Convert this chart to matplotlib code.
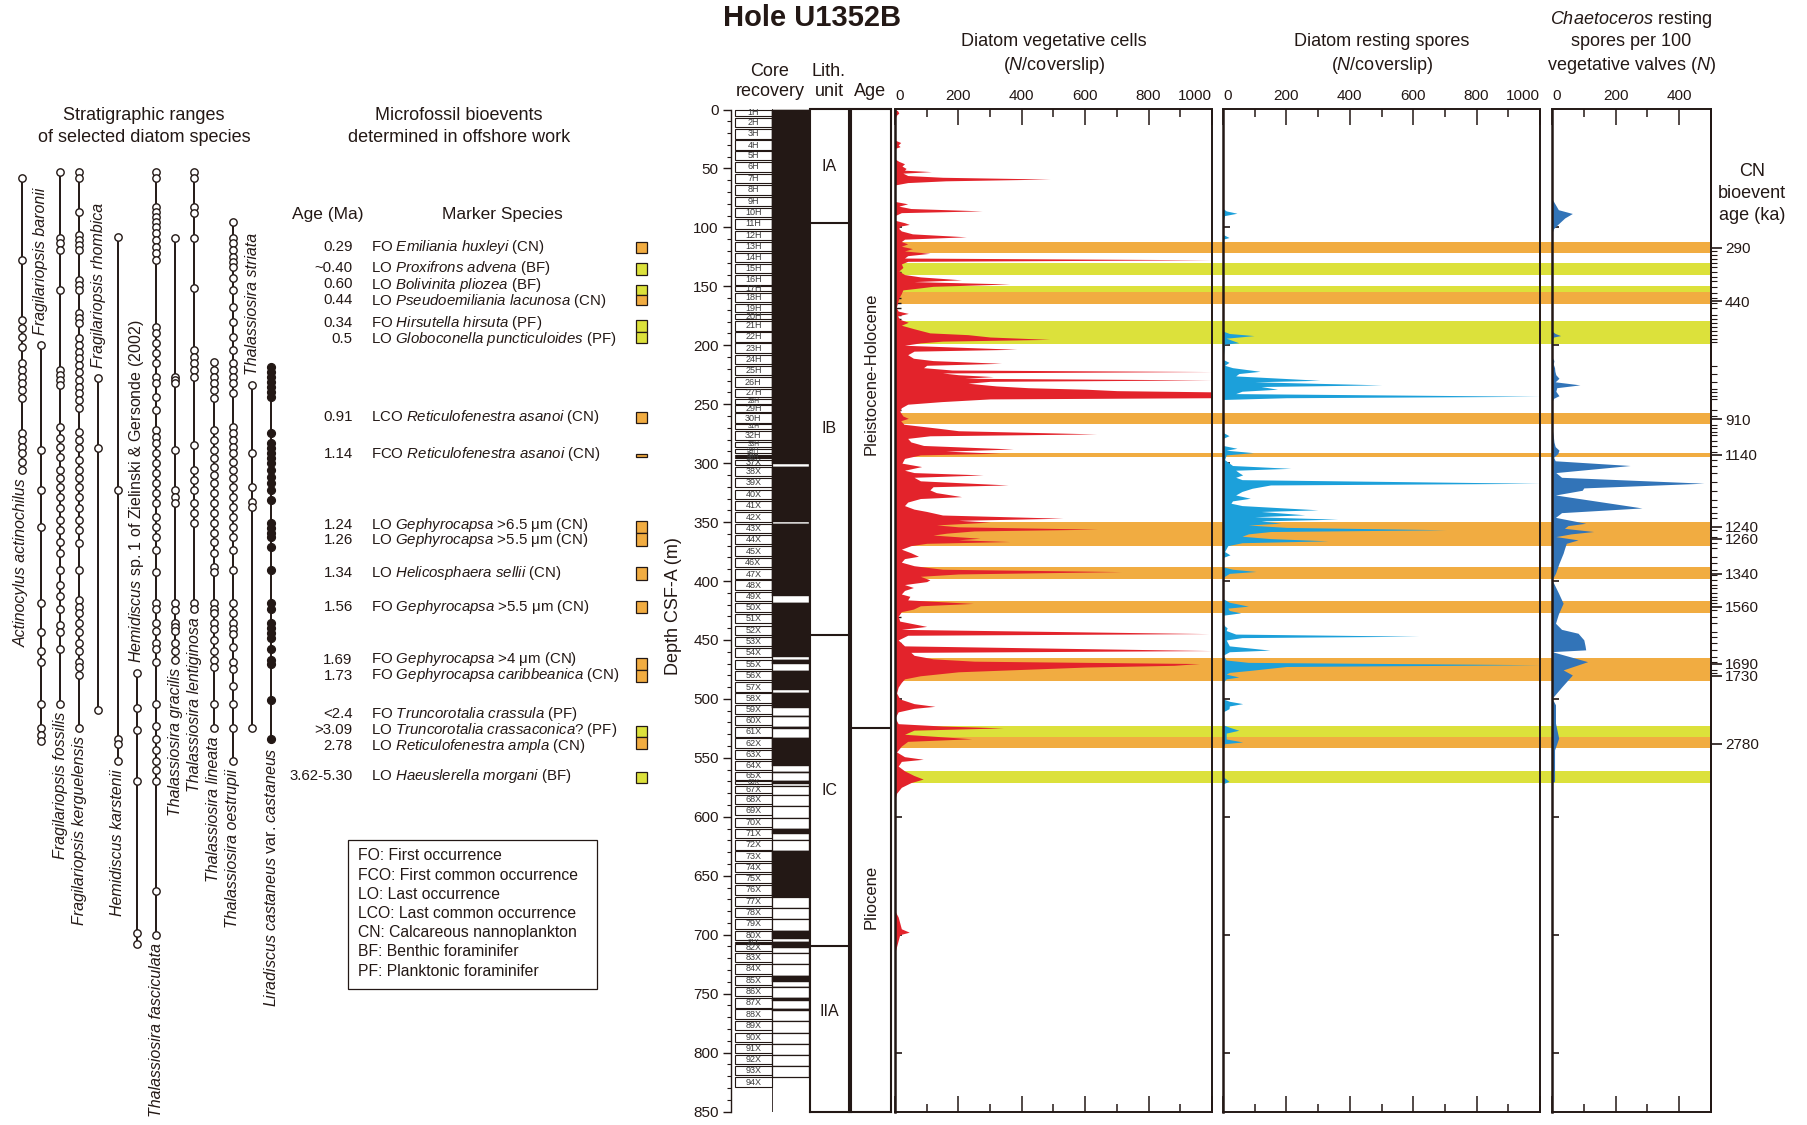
import numpy as np
import matplotlib
matplotlib.use("Agg")
import matplotlib.pyplot as plt
from matplotlib.patches import Rectangle
from matplotlib.ticker import MultipleLocator

plt.rcParams['font.family'] = ['Liberation Sans', 'DejaVu Sans']
plt.rcParams['mathtext.fontset'] = 'custom'
plt.rcParams['mathtext.rm'] = 'Liberation Sans'
plt.rcParams['mathtext.it'] = 'Liberation Sans:italic'
plt.rcParams['mathtext.bf'] = 'Liberation Sans:bold'
INK = '#231815'
plt.rcParams['text.color'] = INK
plt.rcParams['axes.edgecolor'] = INK
plt.rcParams['xtick.color'] = INK
plt.rcParams['ytick.color'] = INK

# ------------------------------------------------------------------ data
core_names = ([f"{i}H" for i in range(1, 37)] + [f"{i}X" for i in range(37, 95)])
core_top = [0.0, 7.0, 16.7, 26.2, 35.6, 44.7, 54.8, 64.2, 73.9, 83.4,
            93.1, 102.9, 112.3, 121.7, 131.2, 140.6, 150.0, 155.8, 165.2, 173.5,
            179.5, 189.0, 198.4, 208.2, 217.6, 227.3, 236.8, 245.6, 251.0, 257.8,
            267.2, 272.4, 282.1, 287.6, 292.8, 295.0, 297.3, 303.4, 312.5, 322.6,
            331.7, 341.8, 351.5, 361.0, 370.7, 380.2, 390.2, 399.4, 409.0, 418.6,
            428.0, 437.8, 447.3, 456.7, 466.8, 476.2, 486.0, 495.4, 505.0, 514.3,
            524.0, 533.5, 543.0, 552.7, 562.2, 570.0, 573.8, 581.4, 590.9, 600.6,
            610.0, 619.8, 629.3, 639.0, 648.5, 658.0, 667.7, 677.1, 686.9, 696.6,
            705.8, 708.2, 715.5, 725.0, 734.8, 744.2, 754.0, 763.4, 773.2, 783.0,
            792.4, 801.8, 811.3, 821.0]
core_recovery_pct = [100] * 17 + [94] + [100] * 18 + [57, 100, 100, 100, 100, 85,
                     100, 100, 100, 100, 100, 100, 42, 100, 100, 100, 100, 80, 38, 100,
                     65, 100, 28, 12, 14, 100, 100, 45, 8, 50, 0, 0, 0, 0, 48, 0,
                     100, 100, 100, 100, 0, 0, 0, 80, 100, 38, 0, 0, 55, 5, 26, 16,
                     0, 0, 0, 0, 0, 0]

lith_bounds = [0, 96.5, 446, 709.5, 850]
lith_names = ['IA', 'IB', 'IC', 'IIA']
lith_label_depth = [48, 271, 578, 765]
age_bounds = [0, 524.4, 850]
age_names = ['Pleistocene-Holocene', 'Pliocene']
age_label_depth = [224, 668]

veg_depth = [0, 1, 3, 5, 8, 26, 28, 30, 31.5, 33, 42, 44, 46, 48, 50, 51.5, 52.7, 54, 56, 57.5,
             59, 60.5, 62, 64, 78, 80, 82, 84, 86, 87.5, 90, 94, 96, 97.5, 99, 101, 103, 105.5, 108, 110,
             112, 114, 116, 118, 120, 122, 124, 126, 127.5, 128.8, 131, 134, 137, 140, 142, 144.5, 146, 148, 150, 151.7,
             153, 157, 160, 164, 168, 171, 173, 175, 178, 180.5, 183, 186, 189.5, 191, 193, 195, 196.5, 198, 200, 203.4,
             205, 208, 211, 213, 215.3, 217, 219, 221, 222.3, 223.5, 225, 226.6, 228, 229.4, 230.6, 232.2, 234.5, 236, 237.3, 238.5,
             239.5, 244.5, 245.5, 247.8, 250, 253, 256, 260, 262, 264, 267, 270.4, 272.5, 275.2, 276.8, 279, 282, 285, 288, 289.8,
             291.6, 293, 296, 300, 302.9, 306, 308, 310, 312, 315, 318.5, 320, 322.7, 325, 328.4, 330, 333, 336, 339, 341,
             344, 346.7, 348.5, 350, 352.4, 354, 356, 357.5, 359.4, 361, 363.7, 365, 366.5, 368, 370, 373, 376, 379, 381, 384,
             387, 390, 392, 394, 396, 399, 400.5, 403, 405.5, 408, 411, 413, 416, 419, 421, 423.8, 426, 430, 434, 438.5,
             441, 444.6, 446, 450, 455, 459, 460.5, 463, 466, 468, 470, 471.5, 473, 475, 477, 480.4, 483, 486, 490, 495,
             500, 504, 506.3, 508, 511, 516, 521, 523, 524.6, 526.5, 530, 533.8, 536, 540, 545, 549, 551.2, 553, 557, 561,
             565, 568, 571, 575, 580, 585, 680, 685, 690, 695, 697.9, 700, 705, 710, 715, 850]
veg_count = [0, 8, 12, 4, 0, 0, 18, 10, 16, 0, 0, 12, 30, 22, 35, 30, 115, 25, 40, 150,
             490, 160, 40, 0, 0, 40, 12, 50, 275, 20, 0, 0, 30, 45, 15, 12, 20, 55, 225, 30,
             20, 40, 20, 55, 30, 110, 40, 30, 1000, 40, 20, 25, 12, 30, 80, 210, 60, 362, 120, 68,
             25, 18, 12, 8, 4, 10, 42, 8, 15, 42, 20, 60, 110, 230, 300, 488, 150, 80, 30, 385,
             60, 40, 58, 120, 336, 100, 90, 180, 1000, 150, 200, 310, 220, 1000, 300, 230, 320, 420, 604, 700,
             1000, 1000, 300, 147, 40, 20, 15, 25, 42, 18, 28, 137, 200, 636, 110, 40, 50, 90, 373, 160,
             331, 80, 30, 22, 84, 30, 60, 278, 60, 80, 357, 120, 110, 130, 210, 80, 40, 30, 60, 100,
             150, 530, 200, 300, 131, 200, 640, 250, 163, 120, 268, 200, 362, 100, 50, 20, 50, 74, 30, 20,
             60, 150, 714, 200, 80, 110, 100, 30, 58, 30, 20, 47, 40, 247, 80, 58, 20, 10, 15, 100,
             20, 990, 40, 10, 30, 1000, 50, 60, 120, 250, 960, 880, 600, 400, 200, 79, 30, 20, 10, 5,
             15, 60, 126, 60, 10, 0, 10, 150, 342, 60, 30, 242, 40, 20, 5, 30, 89, 20, 10, 30,
             60, 89, 50, 20, 5, 0, 0, 10, 15, 20, 45, 15, 10, 5, 0, 0]

spore_depth = [0, 84, 86, 88, 90, 95, 106, 108.6, 110, 188, 190, 191.8, 194, 197.9, 199, 212, 214.5, 217, 219, 222.1,
               224, 226, 229.7, 231, 233.6, 235, 237.3, 239, 241, 243.3, 244.5, 246, 274, 276.7, 279, 285, 287.4, 289, 291.1, 293,
               297, 300, 302, 304.4, 306, 308, 310, 312, 314, 317.1, 318.5, 321.3, 324, 327, 329.8, 332, 334, 336, 339.6, 341,
               343.8, 345.5, 347.5, 349, 350.9, 352.5, 354.5, 356.5, 358, 360, 362, 364, 365.9, 367.5, 370, 375, 377.8, 380, 388, 390,
               391.9, 393.5, 396, 400, 415, 418, 421.3, 423, 425, 427, 429, 436, 438, 439.7, 442, 445, 446.8, 448, 450, 455,
               458.6, 460, 463, 467, 469, 471, 472.5, 475.8, 477.5, 479, 481.4, 483, 486, 500, 502, 504, 506, 508.3, 511, 522,
               524, 526.6, 529, 534, 536.5, 538, 541, 566, 568, 569.9, 572, 850]
spore_count = [0, 0, 10, 44, 5, 0, 0, 19, 0, 0, 20, 98, 10, 50, 5, 0, 19, 5, 30, 117,
               50, 40, 306, 100, 501, 120, 172, 60, 40, 1000, 200, 0, 0, 19, 0, 0, 44, 10, 96, 10,
               5, 20, 30, 214, 40, 50, 62, 40, 60, 1000, 150, 92, 60, 40, 86, 30, 25, 60, 300, 120,
               258, 100, 362, 120, 183, 80, 200, 704, 150, 80, 60, 150, 331, 60, 15, 5, 22, 0, 0, 30,
               104, 20, 5, 0, 0, 20, 80, 15, 20, 56, 0, 0, 5, 13, 10, 40, 618, 60, 10, 20,
               148, 20, 0, 10, 80, 1000, 200, 86, 20, 10, 50, 10, 0, 0, 20, 62, 20, 19, 0, 0,
               20, 50, 10, 10, 62, 5, 0, 0, 10, 19, 0, 0]

chaet_depth = [0, 75, 76.7, 85, 88.2, 92, 97, 101, 105, 188, 190, 191.8, 193, 196, 210, 213, 216, 219, 222, 225,
               228, 231, 233.6, 236, 239, 242.8, 245, 248, 270, 276.7, 282, 286, 289, 291.9, 295, 298, 302, 308, 312, 317,
               321, 323, 327, 338, 342, 346, 351, 353, 355.3, 358, 360, 362.3, 365.1, 368, 372, 376.4, 385, 393.4, 399, 410,
               418.8, 428, 435.8, 441, 444.3, 449.9, 455, 458.4, 459.9, 468.4, 475.4, 479.7, 490, 499.5, 505, 512, 520.6, 533.3, 543.2, 555,
               570, 571, 850]
chaet_ratio = [0, 0, 2, 20, 64, 40, 20, 5, 0, 0, 10, 27, 5, 0, 0, 6, 4, 8, 9, 12,
               22, 10, 88, 15, 12, 22, 5, 0, 0, 4, 6, 10, 22, 18, 5, 10, 246, 12, 30, 478,
               100, 95, 11, 283, 30, 11, 106, 50, 39, 131, 60, 12, 82, 45, 40, 35, 22, 11, 0, 20,
               35, 20, 11, 30, 82, 100, 104, 106, 0, 112, 35, 64, 30, 0, 11, 11, 11, 21, 8, 8,
               8, 0, 0]

band_top = [112, 130.5, 150, 155, 179.5, 257.5, 291.5, 350, 388, 417, 465, 523, 532, 561]
band_bottom = [122, 140.5, 155, 165, 199, 267, 295, 370, 398, 427, 484.5, 532, 542, 571]
band_group = ['CN', 'F', 'F', 'CN', 'F', 'CN', 'CN', 'CN', 'CN', 'CN', 'CN', 'F', 'CN', 'F']

cn_age_labels = ['290', '440', '910', '1140', '1240', '1260', '1340', '1560', '1690', '1730', '2780']
cn_age_depth = [117.4, 162.8, 262.8, 293.0, 353.8, 364.3, 394.0, 421.7, 470.3, 480.5, 537.9]
cn_sample_depth = [119.9, 123.6, 126.6, 130.5, 133.6, 138.2, 141.8, 145.8, 150.3, 155.8, 159.5, 164, 168.5,
                   174.6, 177.7, 180.7, 184.4, 188.3, 191.3, 194.4, 197.5, 217.2, 224.8, 230.9, 237, 240, 243,
                   246, 255.2, 259.8, 267.4, 270.4, 273.5, 276.5, 281.1, 285.6, 290.2, 297.3, 302.4, 308.6,
                   315.7, 323.6, 331.2, 336.9, 342.5, 346.7, 356.7, 362.3, 368, 372.2, 379.3, 385, 390.6,
                   394.8, 399, 403.3, 406.1, 410.4, 413.2, 416, 418.8, 424.5, 430.2, 435.8, 442.9, 447.1,
                   452.8, 458.4, 464.1, 468.4, 475.4, 478.2]

species_names = [
    'Actinocylus actinochilus', 'Fragilariopsis baronii', 'Fragilariopsis fossilis',
    'Fragilariopsis kerguelensis', 'Fragilariopsis rhombica', 'Hemidiscus karstenii',
    r'$\mathit{Hemidiscus}$ sp. 1 of Zielinski & Gersonde (2002)', 'Thalassiosira fasciculata',
    'Thalassiosira gracilis', 'Thalassiosira lentiginosa', 'Thalassiosira lineata',
    'Thalassiosira oestrupii', 'Thalassiosira striata',
    r'$\mathit{Liradiscus\ castaneus}$ var. $\mathit{castaneus}$']
species_label_above = [False, True, False, False, True, False, True, False, False, False, False, False, True, False]
species_filled = [False] * 13 + [True]
species_levels = [
    [178, 260, 320, 328, 337, 347, 363, 370, 377, 383, 390, 398, 433, 440, 447, 453, 462, 470],
    [345, 450, 490, 527, 603, 632, 651, 662, 704, 728, 735, 741],
    [172, 238, 243, 250, 290, 370, 375, 380, 385, 427, 438, 447, 457, 470, 478, 487, 497, 508, 520,
     530, 542, 553, 570, 585, 596, 609, 625, 632, 649, 704],
    [172, 178, 212, 235, 240, 245, 250, 280, 285, 290, 313, 318, 323, 338, 345, 352, 358, 365, 372,
     380, 387, 393, 400, 408, 432, 440, 448, 460, 470, 478, 487, 497, 508, 520, 530, 543, 570, 600,
     607, 613, 623, 632, 643, 651, 662, 667, 675, 728],
    [378, 448, 710],
    [237, 490, 739, 744, 761],
    [673, 708, 730, 781, 933, 944],
    [172, 178, 207, 212, 217, 222, 227, 233, 240, 247, 253, 260, 327, 333, 343, 353, 363, 377, 383,
     397, 410, 430, 437, 443, 453, 463, 473, 483, 493, 503, 517, 527, 537, 550, 572, 603, 609, 623,
     631, 643, 649, 662, 704, 726, 739, 750, 761, 770, 781, 891, 935],
    [238, 377, 380, 383, 450, 490, 497, 503, 603, 610, 623, 627, 631, 643, 651, 660],
    [172, 178, 207, 213, 238, 288, 350, 357, 363, 370, 377, 445, 470, 480, 490, 503, 513, 523, 603, 609],
    [362, 370, 377, 383, 390, 398, 430, 440, 450, 458, 467, 475, 483, 493, 503, 513, 523, 533, 542,
     553, 567, 572, 603, 609, 613, 623, 629, 640, 651, 660, 667, 704, 728],
    [222, 238, 243, 250, 257, 262, 267, 278, 290, 307, 322, 337, 350, 363, 370, 377, 383, 393, 427,
     433, 440, 447, 453, 462, 470, 478, 487, 497, 507, 517, 527, 537, 550, 570, 603, 613, 623, 629,
     634, 647, 662, 669, 686, 704, 728, 761],
    [385, 453, 487, 502, 507, 728],
    [367, 372, 377, 382, 387, 392, 397, 433, 443, 448, 453, 458, 463, 470, 477, 483, 490, 500, 523,
     528, 533, 537, 547, 570, 603, 609, 623, 628, 633, 638, 649, 660, 664, 700, 739]]

event_age = ['0.29', '~0.40', '0.60', '0.44', '0.34', '0.5', '0.91', '1.14', '1.24', '1.26',
             '1.34', '1.56', '1.69', '1.73', '<2.4', '>3.09', '2.78', '3.62-5.30']
event_text = [
    r'FO $\mathit{Emiliania\ huxleyi}$ (CN)',
    r'LO $\mathit{Proxifrons\ advena}$ (BF)',
    r'LO $\mathit{Bolivinita\ pliozea}$ (BF)',
    r'LO $\mathit{Pseudoemiliania\ lacunosa}$ (CN)',
    r'FO $\mathit{Hirsutella\ hirsuta}$ (PF)',
    r'LO $\mathit{Globoconella\ puncticuloides}$ (PF)',
    r'LCO $\mathit{Reticulofenestra\ asanoi}$ (CN)',
    r'FCO $\mathit{Reticulofenestra\ asanoi}$ (CN)',
    r'LO $\mathit{Gephyrocapsa}$ >6.5 μm (CN)',
    r'LO $\mathit{Gephyrocapsa}$ >5.5 μm (CN)',
    r'LO $\mathit{Helicosphaera\ sellii}$ (CN)',
    r'FO $\mathit{Gephyrocapsa}$ >5.5 μm (CN)',
    r'FO $\mathit{Gephyrocapsa}$ >4 μm (CN)',
    r'FO $\mathit{Gephyrocapsa\ caribbeanica}$ (CN)',
    r'FO $\mathit{Truncorotalia\ crassula}$ (PF)',
    r'LO $\mathit{Truncorotalia\ crassaconica?}$ (PF)',
    r'LO $\mathit{Reticulofenestra\ ampla}$ (CN)',
    r'LO $\mathit{Haeuslerella\ morgani}$ (BF)']
event_row_y = [247, 268, 284.5, 300.5, 323, 339, 417, 454, 525, 540, 573, 607, 659.5, 675.5, 714, 730, 746, 776]
event_box_top = [242, 263, 285, 295, 320, 332, 412, 453.5, 521, 533, 567, 601, 658, 670, 726, 737, 772]
event_box_bottom = [253, 275, 295, 305, 332, 343, 423, 456.5, 533, 546, 580, 613, 670, 682, 737, 749, 783]
event_box_group = ['CN', 'F', 'F', 'CN', 'F', 'F', 'CN', 'CN', 'CN', 'CN', 'CN', 'CN', 'CN', 'CN', 'F', 'CN', 'F']

legend_lines = ['FO: First occurrence', 'FCO: First common occurrence', 'LO: Last occurrence',
                'LCO: Last common occurrence', 'CN: Calcareous nannoplankton',
                'BF: Benthic foraminifer', 'PF: Planktonic foraminifer']

RED = '#E3232B'
LBLUE = '#1CA0DA'
DBLUE = '#3274B8'
GROUP_COLOR = {'CN': '#F1AC41', 'F': '#DCE13B'}

# ------------------------------------------------------------------ figure
W, H = 1808, 1125
fig = plt.figure(figsize=(W / 100, H / 100), dpi=100)


def px_ax(x0, y0, x1, y1, z=1):
    ax = fig.add_axes((x0 / W, 1 - y1 / H, (x1 - x0) / W, (y1 - y0) / H))
    ax.set_zorder(z)
    ax.patch.set_alpha(0)
    return ax


Y0, Y1 = 109.5, 1111.5

# bands background
axb = px_ax(895, Y0, 1711, Y1, z=0)
axb.set_ylim(850, 0)
axb.set_xlim(0, 1)
axb.axis('off')
for t, b, g in zip(band_top, band_bottom, band_group):
    axb.axhspan(t, b, color=GROUP_COLOR[g], lw=0)

# core recovery
ax_core = px_ax(731, Y0, 809.5, Y1, z=1)
ax_core.set_xlim(0, 78.5)
ax_core.set_ylim(850, 0)
for s in ['top', 'right', 'bottom']:
    ax_core.spines[s].set_visible(False)
ax_core.spines['left'].set_linewidth(1.0)
ax_core.set_yticks(np.arange(0, 851, 50))
ax_core.yaxis.set_minor_locator(MultipleLocator(10))
ax_core.tick_params(axis='y', which='major', direction='out', length=5.8, width=1.0, labelsize=11, pad=3)
ax_core.tick_params(axis='y', which='minor', direction='out', length=3, width=0.8)
ax_core.set_xticks([])
ax_core.axvline(40.7, color=INK, lw=0.6)
n = len(core_top)
for i in range(n):
    top = core_top[i]
    if i < n - 1:
        nxt = core_top[i + 1]
        bot = max(min(nxt - 1.5, top + 8.0), top + 0.8)
    else:
        nxt = None
        bot = top + 8.0
    ax_core.add_patch(Rectangle((4, top), 36.7, bot - top, facecolor='white', edgecolor=INK, lw=0.8))
    ax_core.text(22.35, (top + bot) / 2, core_names[i], fontsize=6.5 if bot - top > 4 else 4.8,
                 ha='center', va='center', color='#3a3a3a')
    if nxt is not None:
        ax_core.add_patch(Rectangle((40.7, top), 37.8, nxt - top, facecolor='white', edgecolor=INK, lw=0.9))
        rec = core_recovery_pct[i] / 100 * (nxt - top)
        if rec > 0:
            ax_core.add_patch(Rectangle((40.7, top), 37.8, rec, facecolor=INK, edgecolor=INK, lw=0.3))

# lith unit
ax_lith = px_ax(810, Y0, 849, Y1, z=1)
ax_lith.set_xlim(0, 1)
ax_lith.set_ylim(850, 0)
ax_lith.set_xticks([])
ax_lith.set_yticks([])
for sp in ax_lith.spines.values():
    sp.set_linewidth(1.5)
for b in lith_bounds[1:-1]:
    ax_lith.axhline(b, color=INK, lw=1.5)
for nm, d in zip(lith_names, lith_label_depth):
    ax_lith.text(0.5, d, nm, ha='center', va='center', fontsize=11.5)

# age
ax_age = px_ax(851.5, Y0, 891, Y1, z=1)
ax_age.set_xlim(0, 1)
ax_age.set_ylim(850, 0)
ax_age.set_xticks([])
ax_age.set_yticks([])
for sp in ax_age.spines.values():
    sp.set_linewidth(1.5)
for b in age_bounds[1:-1]:
    ax_age.axhline(b, color=INK, lw=1.5)
for nm, d in zip(age_names, age_label_depth):
    ax_age.text(0.5, d, nm, ha='center', va='center', rotation=90, fontsize=12)


def setup_panel(ax, xmax, major_ticks, minor_ticks):
    ax.set_xlim(0, xmax)
    ax.set_ylim(850, 0)
    ax.set_xticks(major_ticks, labels=[str(v) for v in major_ticks])
    ax.set_xticks(minor_ticks, minor=True)
    ax.tick_params(axis='x', which='both', direction='in', top=True, bottom=True,
                   labeltop=True, labelbottom=False, labelsize=11, pad=5)
    ax.tick_params(axis='x', which='major', length=11.5, width=1.1)
    ax.tick_params(axis='x', which='minor', length=6, width=1.1)
    ax.set_yticks(np.arange(100, 801, 100), labels=[])
    ax.tick_params(axis='y', which='major', direction='in', length=5, width=1.2, left=True, right=False)
    for sp in ax.spines.values():
        sp.set_linewidth(1.4)
    ax.spines['left'].set_linewidth(1.8)
    labs = ax.get_xticklabels()
    labs[0].set_horizontalalignment('left')
    if major_ticks[-1] == xmax:
        labs[-1].set_horizontalalignment('right')


ax1 = px_ax(895, Y0, 1212, Y1, z=2)
setup_panel(ax1, 1000, list(range(0, 1001, 200)), list(range(100, 1000, 200)))
ax1.fill_betweenx(veg_depth, 0, veg_count, color=RED, lw=0, zorder=2)
ax1.set_yticks(cn_sample_depth, minor=True)
ax1.tick_params(axis='y', which='minor', direction='in', length=4.3, width=1.0, left=True, right=False)

ax2 = px_ax(1223, Y0, 1540, Y1, z=2)
setup_panel(ax2, 1000, list(range(0, 1001, 200)), list(range(100, 1000, 200)))
ax2.fill_betweenx(spore_depth, 0, spore_count, color=LBLUE, lw=0, zorder=2)

ax3 = px_ax(1552, Y0, 1711, Y1, z=2)
setup_panel(ax3, 500, [0, 200, 400], [100, 300])
ax3.fill_betweenx(chaet_depth, 0, chaet_ratio, color=DBLUE, lw=0, zorder=2)

ax3r = ax3.twinx()
ax3r.set_zorder(3)
ax3r.patch.set_alpha(0)
ax3r.set_ylim(850, 0)
for s in ['top', 'left', 'bottom']:
    ax3r.spines[s].set_visible(False)
ax3r.spines['right'].set_linewidth(1.4)
ax3r.set_yticks(cn_age_depth, labels=cn_age_labels)
ax3r.set_yticks(cn_sample_depth, minor=True)
ax3r.tick_params(axis='y', which='major', direction='out', length=8, width=1.2, labelsize=11, pad=2)
ax3r.tick_params(axis='y', which='minor', direction='out', length=4.3, width=0.8)

# ------------------------------------------------------------------ overlay texts & range chart
ax_t = px_ax(0, 0, W, H, z=10)
ax_t.set_xlim(0, W)
ax_t.set_ylim(H, 0)
ax_t.axis('off')

ax_t.text(812, 18, 'Hole U1352B', fontsize=21, fontweight='bold', ha='center', va='center')
hdr = dict(fontsize=13, ha='center', va='center')
ax_t.text(770, 72, 'Core', **hdr)
ax_t.text(770, 92, 'recovery', **hdr)
ax_t.text(829, 72, 'Lith.', **hdr)
ax_t.text(829, 92, 'unit', **hdr)
ax_t.text(870, 92, 'Age', **hdr)
ax_t.text(1053.5, 41.5, 'Diatom vegetative cells', **hdr)
ax_t.text(1053.5, 65, r'($\mathit{N}$/coverslip)', **hdr)
ax_t.text(1381.5, 41.5, 'Diatom resting spores', **hdr)
ax_t.text(1381.5, 65, r'($\mathit{N}$/coverslip)', **hdr)
ax_t.text(1631, 19.6, r'$\mathit{Chaetoceros}$ resting', **hdr)
ax_t.text(1631, 41.8, 'spores per 100', **hdr)
ax_t.text(1631, 65.4, r'vegetative valves ($\mathit{N}$)', **hdr)
ax_t.text(1752, 171, 'CN', **hdr)
ax_t.text(1752, 193, 'bioevent', **hdr)
ax_t.text(1752, 216, 'age (ka)', **hdr)
ax_t.text(674, 606, 'Depth CSF-A (m)', fontsize=13, rotation=90, ha='center', va='center')

ax_t.text(144, 115, 'Stratigraphic ranges', **hdr)
ax_t.text(144, 138, 'of selected diatom species', **hdr)
ax_t.text(459, 115, 'Microfossil bioevents', **hdr)
ax_t.text(459, 138, 'determined in offshore work', **hdr)
ax_t.text(328, 215, 'Age (Ma)', fontsize=12.5, ha='center', va='center')
ax_t.text(502, 215, 'Marker Species', fontsize=12.5, ha='center', va='center')

for a, t, y in zip(event_age, event_text, event_row_y):
    ax_t.text(352.7, y, a, fontsize=10.8, ha='right', va='center')
    ax_t.text(371, y, t, fontsize=10.8, ha='left', va='center')
for t, b, g in zip(event_box_top, event_box_bottom, event_box_group):
    ax_t.add_patch(Rectangle((636, t), 11, b - t, facecolor=GROUP_COLOR[g], edgecolor=INK, lw=0.9))

ax_t.add_patch(Rectangle((347.7, 840), 249.3, 149, facecolor='none', edgecolor=INK, lw=0.9))
for k, line in enumerate(legend_lines):
    ax_t.text(358, 856 + k * 19.2, line, fontsize=11.3, ha='left', va='center')

# stratigraphic ranges
for i, (nm, lev, above, filled) in enumerate(zip(species_names, species_levels,
                                                species_label_above, species_filled)):
    x = 21.7 + 19.2 * i
    ax_t.plot([x, x], [min(lev), max(lev)], color=INK, lw=1.4, zorder=2, solid_capstyle='butt')
    ax_t.plot([x] * len(lev), lev, 'o', ms=5.6 if filled else 5.3,
              mfc=INK if filled else 'white', mec=INK, mew=1.0, zorder=3)
    style = 'normal' if '$' in nm else 'italic'
    if above:
        ax_t.text(x, min(lev) - 10, nm, rotation=90, ha='center', va='bottom',
                  fontsize=11.5, fontstyle=style)
    else:
        ax_t.text(x, max(lev) + 8, nm, rotation=90, ha='center', va='top',
                  fontsize=11.5, fontstyle=style)

fig.savefig('out.png', dpi=100)
